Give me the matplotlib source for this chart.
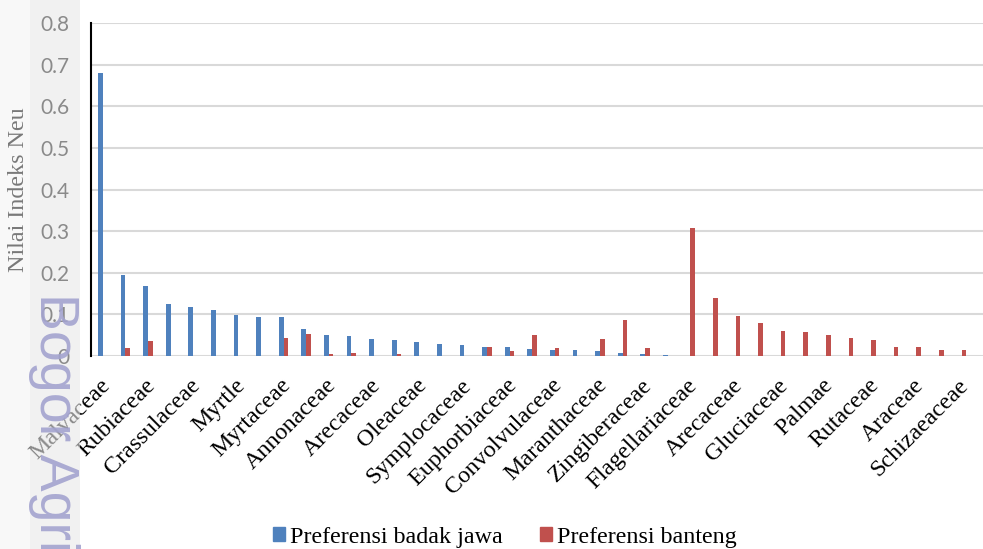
import numpy as np
import matplotlib.pyplot as plt
import matplotlib.transforms as mtransforms
from matplotlib.patches import Rectangle, Patch

# Nama famili yang tampil di sumbu X (setiap kategori genap)
family_labels = ["Malvaceae", "Rubiaceae", "Crassulaceae", "Myrtle", "Myrtaceae",
                 "Annonaceae", "Arecaceae", "Oleaceae", "Symplocaceae", "Euphorbiaceae",
                 "Convolvulaceae", "Maranthaceae", "Zingiberaceae", "Flagellariaceae",
                 "Arecaceae", "Gluciaceae", "Palmae", "Rutaceae", "Araceae", "Schizaeaceae"]

# Nilai indeks Neu untuk 39 kategori
badak_jawa = [0.680, 0.194, 0.167, 0.125, 0.117, 0.110, 0.097, 0.093, 0.093, 0.064,
              0.050, 0.048, 0.041, 0.038, 0.033, 0.028, 0.025, 0.022, 0.021, 0.016,
              0.014, 0.013, 0.012, 0.006, 0.004, 0.003, 0, 0, 0, 0,
              0, 0, 0, 0, 0, 0, 0, 0, 0]
banteng = [0, 0.019, 0.035, 0, 0, 0, 0, 0, 0.043, 0.052,
           0.004, 0.006, 0, 0.004, 0, 0, 0, 0.021, 0.011, 0.051,
           0.018, 0, 0.040, 0.086, 0.019, 0, 0.308, 0.138, 0.096, 0.078,
           0.060, 0.058, 0.049, 0.042, 0.039, 0.020, 0.020, 0.015, 0.015]

y_ticks = [0, 0.1, 0.2, 0.3, 0.4, 0.5, 0.6, 0.7, 0.8]
y_tick_labels = ["0", "0.1", "0.2", "0.3", "0.4", "0.5", "0.6", "0.7", "0.8"]

BLUE = "#4f81bd"
RED = "#c0504d"
SERIF = "Liberation Serif"

fig = plt.figure(figsize=(9.83, 5.49), dpi=100)
ax = fig.add_axes([0.093, 0.352, 0.907, 0.6056])

x = np.arange(len(badak_jawa))
w = 0.21
ax.bar(x - w / 2, badak_jawa, width=w, color=BLUE, zorder=3)
ax.bar(x + w / 2, banteng, width=w, color=RED, zorder=3)

ax.set_xlim(-0.5, 38.95)
ax.set_ylim(0, 0.8)

# Garis grid horizontal
ax.set_yticks(y_ticks)
ax.set_yticklabels(y_tick_labels, fontname="Lato", fontsize=15, color="black")
ax.yaxis.grid(True, color="#d9d9d9", linewidth=1.5, zorder=0)
ax.tick_params(axis="y", length=0, pad=16)

# Label kategori miring 45 derajat, hanya setiap kategori kedua
ax.set_xticks(x[::2])
ax.set_xticklabels(family_labels, rotation=45, ha="right", va="center",
                   rotation_mode="anchor", fontname=SERIF, fontsize=17.3)
ax.tick_params(axis="x", length=0, pad=19)
offset = mtransforms.ScaledTranslation(4 / 100, 0, fig.dpi_scale_trans)
for lbl in ax.get_xticklabels():
    lbl.set_transform(lbl.get_transform() + offset)

for side in ["top", "right", "bottom"]:
    ax.spines[side].set_visible(False)
ax.spines["left"].set_color("black")
ax.spines["left"].set_linewidth(1.5)
ax.spines["left"].set_zorder(4)

fig.text(18.5 / 983, 1 - 189.5 / 549, "Nilai Indeks Neu", rotation=90,
         ha="center", va="center", fontname=SERIF, fontsize=17.3, color="black")

# Legenda di bawah
handles = [Patch(color=BLUE, label="Preferensi badak jawa"),
           Patch(color=RED, label="Preferensi banteng")]
fig.legend(handles=handles, loc="center", bbox_to_anchor=(505 / 983, 1 - 537 / 549),
           ncol=2, frameon=False, prop={"family": SERIF, "size": 17.3},
           handlelength=0.5, handleheight=0.5, handletextpad=0.2, columnspacing=1.55)

# Pita abu-abu di tepi kiri dengan tanda air
fig.add_artist(Rectangle((0, 0), 30 / 983, 1, transform=fig.transFigure,
                         facecolor="#f2f2f2", alpha=0.5, edgecolor="none", zorder=10))
fig.add_artist(Rectangle((30 / 983, 0), 50 / 983, 1, transform=fig.transFigure,
                         facecolor="#e8e8e8", alpha=0.6, edgecolor="none", zorder=10))
fig.text(40 / 983, 1 - 293 / 549, "Bogor Agricultural University", rotation=-90,
         rotation_mode="anchor", ha="left", va="baseline", fontname="Liberation Sans",
         fontsize=40, color="#a3a3cf", alpha=0.9, zorder=11)

plt.savefig("out.png", dpi=100)
